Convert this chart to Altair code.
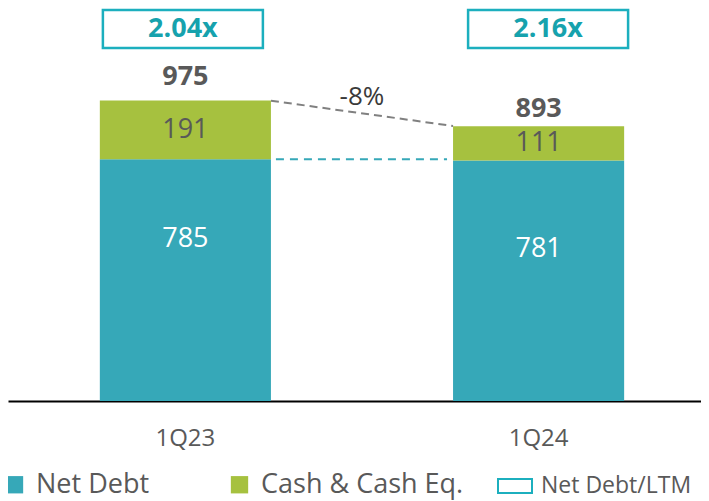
import altair as alt
import pandas as pd

# ---- data ----
quarters = ["1Q23", "1Q24"]
net_debt = [785, 781]
cash = [191, 111]
totals = [975, 893]
leverage = ["2.04x", "2.16x"]
series = ["Net Debt", "Cash & Cash Eq."]
change_label = "-8%"
ratio_label = "Net Debt/LTM"

TEAL = "#36A8B8"
GREEN = "#A6C13F"
BOX = "#1CAFBE"
BOXTEXT = "#16A2AD"
GREY = "#595959"
FONT = "Open Sans"

# per-quarter label styling (pixel offsets)
box_shift = [-2.5, 9.5]
net_dy = [-41, -32]
total_dy = [-16, -9]

rows = []
for q, nd, c in zip(quarters, net_debt, cash):
    rows.append({"quarter": q, "series": series[0], "value": nd, "order": 0})
    rows.append({"quarter": q, "series": series[1], "value": c, "order": 1})
bars_df = pd.DataFrame(rows)

lbl_df = pd.DataFrame({
    "quarter": quarters,
    "net_mid": [n / 2 for n in net_debt],
    "cash_mid": [n + c / 2 for n, c in zip(net_debt, cash)],
    "net_lbl": [str(v) for v in net_debt],
    "cash_lbl": [str(v) for v in cash],
    "total": totals,
    "total_lbl": [str(v) for v in totals],
    "lev": leverage,
    "key": [ratio_label] * len(quarters),
})

rule_df = pd.DataFrame({
    "q1": [quarters[0]], "q2": [quarters[1]],
    "ya": [totals[0]], "yb": [totals[1]],
    "nd": [net_debt[0]], "chg": [change_label],
})

xs = alt.Scale(domain=quarters, paddingInner=0.51558, paddingOuter=0.2388, align=0.5444)
xaxis = alt.Axis(title=None, labelAngle=0, ticks=False, domainColor="black", domainWidth=2,
                 labelFontSize=24, labelColor=GREY, labelFont=FONT, labelPadding=25)
ys = alt.Scale(domain=[0, 1276], nice=False, zero=True)

X = alt.X("quarter:N", scale=xs, axis=xaxis)

bars = alt.Chart(bars_df).mark_bar().encode(
    x=X,
    y=alt.Y("value:Q", stack="zero", scale=ys, axis=None),
    color=alt.Color("series:N", scale=alt.Scale(domain=series, range=[TEAL, GREEN]),
                    legend=alt.Legend(title=None, orient="none", legendX=-7, legendY=463,
                                      direction="horizontal", symbolType="square",
                                      symbolSize=300, symbolStrokeWidth=0, padding=0,
                                      labelFontSize=27, labelColor=GREY, labelFont=FONT,
                                      labelOffset=8, columnPadding=76, labelLimit=400)),
    order=alt.Order("order:Q"),
)

grey_rule = alt.Chart(rule_df).mark_rule(color="#808080", strokeWidth=2, strokeDash=[8, 5]).encode(
    x=alt.X("q1:N", bandPosition=1, scale=xs, axis=xaxis),
    x2=alt.X2("q2:N", bandPosition=0),
    y=alt.Y("ya:Q", scale=ys, axis=None),
    y2="yb:Q",
)

teal_rule = alt.Chart(rule_df).mark_rule(color=TEAL, strokeWidth=2, strokeDash=[8, 6],
                                         xOffset=5, x2Offset=-6).encode(
    x=alt.X("q1:N", bandPosition=1, scale=xs, axis=xaxis),
    x2=alt.X2("q2:N", bandPosition=0),
    y=alt.Y("nd:Q", scale=ys, axis=None),
)

chg_text = alt.Chart(rule_df).mark_text(dx=91, dy=4, baseline="alphabetic", fontSize=26,
                                        color="#3A3A3A", font=FONT).encode(
    x=alt.X("q1:N", bandPosition=1, scale=xs, axis=xaxis),
    y=alt.Y("ya:Q", scale=ys, axis=None),
    text="chg:N",
)

cash_text = alt.Chart(lbl_df).mark_text(fontSize=27, color=GREY, baseline="middle",
                                        font=FONT).encode(
    x=X, y=alt.Y("cash_mid:Q", scale=ys, axis=None), text="cash_lbl:N")

stroke_enc = alt.Stroke("key:N", scale=alt.Scale(domain=[ratio_label], range=[BOX]),
                        legend=alt.Legend(title=None, orient="none", legendX=489, legendY=460,
                                          symbolType="M-1,-0.41H1V0.41H-1Z", symbolSize=1156,
                                          symbolFillColor="white", symbolStrokeWidth=2,
                                          padding=0,
                                          labelFontSize=23, labelColor=GREY, labelFont=FONT,
                                          labelOffset=8, labelLimit=400))

per_q = []
for q, off, ndy, tdy in zip(quarters, box_shift, net_dy, total_dy):
    base = alt.Chart(lbl_df).transform_filter(alt.datum.quarter == q)
    per_q.append(
        base.mark_text(fontSize=27, color="white", dy=ndy, baseline="middle", font=FONT)
        .encode(x=X, y=alt.Y("net_mid:Q", scale=ys, axis=None), text="net_lbl:N")
    )
    per_q.append(
        base.mark_text(fontSize=27, fontWeight="bold", color=GREY, dy=tdy,
                       baseline="alphabetic", font=FONT)
        .encode(x=X, y=alt.Y("total:Q", scale=ys, axis=None), text="total_lbl:N")
    )
    per_q.append(
        base.mark_bar(width=160, fill="white", strokeWidth=2.5, xOffset=off)
        .encode(x=X, y=alt.value(2), y2=alt.value(40), stroke=stroke_enc)
    )
    per_q.append(
        base.mark_text(fontSize=27, fontWeight="bold", color=BOXTEXT, dx=off, baseline="middle",
                       font=FONT)
        .encode(x=X, y=alt.value(21), text="lev:N")
    )

chart = alt.layer(grey_rule, teal_rule, bars, cash_text, chg_text, *per_q).properties(
    width=693, height=393,
    autosize=alt.AutoSizeParams(type="none"),
    padding={"left": 0, "top": 0, "right": 0, "bottom": 100},
).configure(font=FONT, background="white", view=alt.ViewConfig(stroke=None))

chart.save("out.html", embed_options={"renderer": "svg", "actions": False})
